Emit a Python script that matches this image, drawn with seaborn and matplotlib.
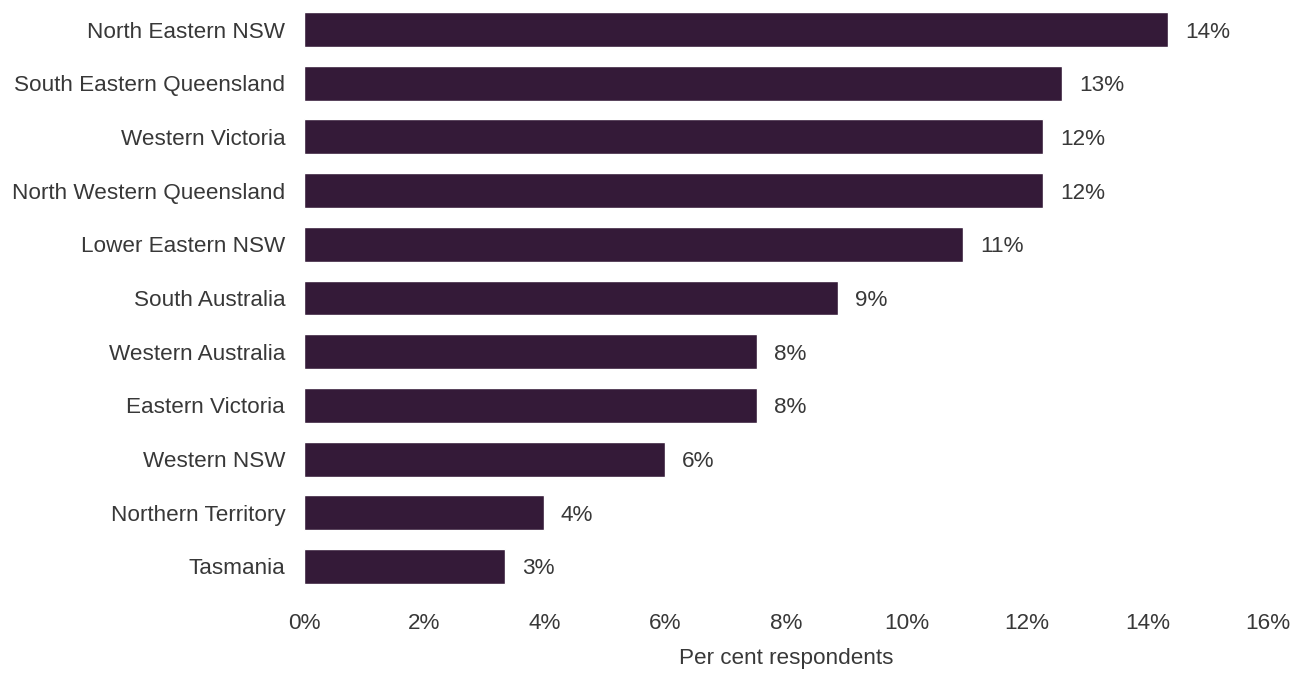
import matplotlib
matplotlib.use("Agg")
import matplotlib.pyplot as plt
import seaborn as sns
import pandas as pd
from matplotlib.ticker import FuncFormatter, MultipleLocator

regions = [
    "North Eastern NSW",
    "South Eastern Queensland",
    "Western Victoria",
    "North Western Queensland",
    "Lower Eastern NSW",
    "South Australia",
    "Western Australia",
    "Eastern Victoria",
    "Western NSW",
    "Northern Territory",
    "Tasmania",
]
share_pct = [14.34, 12.58, 12.27, 12.27, 10.94, 8.86, 7.52, 7.52, 5.99, 3.98, 3.34]

df = pd.DataFrame({"region": regions, "share": share_pct})

sns.set_theme(style="white")
plt.rcParams["font.family"] = ["Liberation Sans", "DejaVu Sans"]

bar_color = "#341a38"
text_color = "#383838"
fs = 16.2

fig = plt.figure(figsize=(13, 6.73), dpi=100)
ax = fig.add_axes([0.2338, 0.1184, 0.7416, 0.8776])

sns.barplot(data=df, x="share", y="region", orient="h", color=bar_color,
            width=0.65, saturation=1, ax=ax)

for i, v in enumerate(share_pct):
    ax.text(v + 0.28, i, f"{v:.0f}%", va="center_baseline", ha="left",
            fontsize=fs, color=text_color)

ax.set_xlim(0, 16)
ax.xaxis.set_major_locator(MultipleLocator(2))
ax.xaxis.set_major_formatter(FuncFormatter(lambda x, _: f"{x:.0f}%"))
ax.set_xlabel("Per cent respondents", fontsize=fs, color=text_color, labelpad=10)
ax.set_ylabel("")
ax.tick_params(axis="both", labelsize=fs, colors=text_color, length=0)
ax.tick_params(axis="x", pad=14.5)
ax.tick_params(axis="y", pad=13.5)
for s in ax.spines.values():
    s.set_visible(False)

fig.savefig("out.png", dpi=100, facecolor="white")
